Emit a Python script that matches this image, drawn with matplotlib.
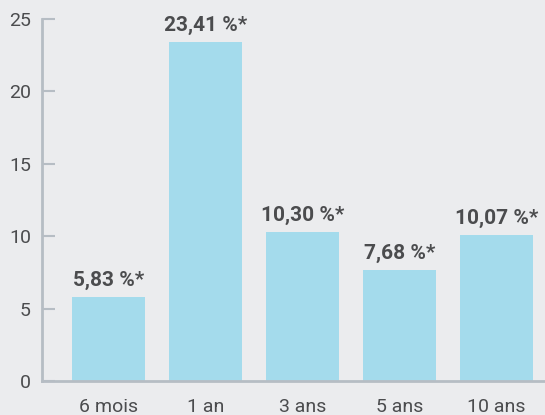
import matplotlib.pyplot as plt

periods = ['6 mois', '1 an', '3 ans', '5 ans', '10 ans']
returns = [5.83, 23.41, 10.30, 7.68, 10.07]
labels = ['5,83 %*', '23,41 %*', '10,30 %*', '7,68 %*', '10,07 %*']
yticks = [0, 5, 10, 15, 20, 25]

bg = '#ebecee'
txt = '#4b4c4e'
axis_col = '#b6bdc4'

plt.rcParams['font.family'] = ['Roboto', 'DejaVu Sans']

fig = plt.figure(figsize=(5.45, 4.15), dpi=100, facecolor=bg)
ax = fig.add_axes([0.0771, 0.0819, 0.9229, 0.8723], facecolor=bg)

x = range(len(periods))
bars = ax.bar(x, returns, width=0.75, color='#a4dbec', zorder=2)

# value labels above each bar
for b, lab in zip(bars, labels):
    ax.annotate(lab, (b.get_x() + b.get_width() / 2, b.get_height()),
                xytext=(0, 5), textcoords='offset points',
                ha='center', va='bottom', fontsize=15,
                fontweight='bold', color=txt)

ax.set_xlim(-0.686, 4.5)
ax.set_ylim(0, 25)
ax.set_yticks(yticks)
ax.set_xticks(list(x))
ax.set_xticklabels(periods)

for s in ['top', 'right']:
    ax.spines[s].set_visible(False)
for s in ['left', 'bottom']:
    ax.spines[s].set_color(axis_col)
    ax.spines[s].set_linewidth(2)

ax.tick_params(axis='y', direction='in', length=9, width=1.5,
               color=axis_col, labelcolor=txt, labelsize=14, pad=8)
ax.tick_params(axis='x', length=0, labelcolor=txt, labelsize=14, pad=12)

fig.savefig('out.png', dpi=100, facecolor=bg)
